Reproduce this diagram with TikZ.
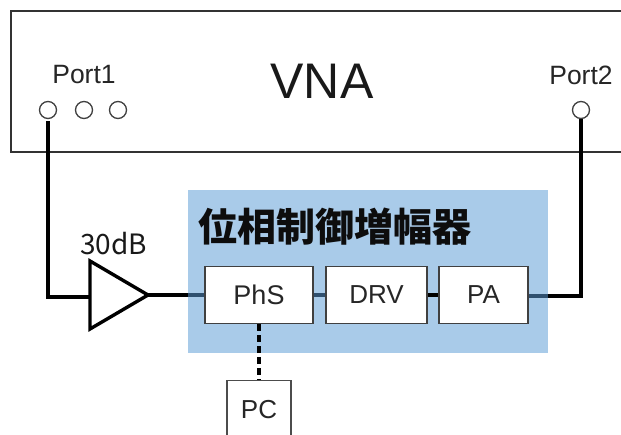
\documentclass[tikz,border=0pt]{standalone}
\usepackage{fontspec}
\setmainfont{Liberation Sans}
\newfontfamily\cjkfont{Noto Sans CJK JP}
\usetikzlibrary{shapes.geometric}
\definecolor{panelblue}{HTML}{5B9BD5}
\definecolor{linegray}{HTML}{404040}
\tikzset{
  x=1pt,y=-1pt,
  wire/.style={line width=3.8pt,black,line join=miter},
  block/.style={draw=linegray,line width=1.6pt,fill=white,inner sep=0pt,font=\fontsize{26}{26}\selectfont,text=black!85},
  portc/.style={circle,draw=linegray,line width=1.3pt,fill=white,minimum size=17pt,inner sep=0pt},
  lbl/.style={inner sep=0pt,font=\fontsize{26.5}{27}\selectfont,text=black!85},
}
\begin{document}
\begin{tikzpicture}
\useasboundingbox (0,0) rectangle (621,435);
\clip (0,0) rectangle (621,435);
% VNA case runs off the right edge
\node[draw=black!80,line width=1.6pt,minimum width=680pt,minimum height=141pt,inner sep=0pt,anchor=north west] (vna) at (10,10) {};
\node[inner sep=0pt,font=\fontsize{50}{50}\selectfont,text=black!90] (vnat) at (322,81) {VNA};
\node[lbl] (p1t) at (84,75) {Port1};
\node[lbl] (p2t) at (581,75) {Port2};
\node[portc] (p1) at (48,110) {};
\node[portc] (p1b) at (84,110) {};
\node[portc] (p1c) at (118,110) {};
\node[portc] (p2) at (581,110) {};
% amplifier
\node[isosceles triangle,isosceles triangle apex angle=60,isosceles triangle stretches,shape border rotate=0,
  minimum width=68pt,minimum height=58pt,inner sep=0pt,outer sep=0pt,draw=black,line width=3.4pt,anchor=apex] (amp) at (148,295) {};
\node[inner sep=0pt,font=\cjkfont\fontsize{28}{28}\selectfont,text=black!90] (gain) at (113.5,244) {30dB};
% coordinates for the blocks (used by the wires beneath the panel)
\coordinate (phsc) at (259,295);
\coordinate (drvc) at (376.5,295);
\coordinate (pac) at (483.5,295);
\coordinate (corn1) at (48,297);
\coordinate (corn2) at (581,296);
% wires beneath the translucent panel
\draw[wire] ([yshift=-2pt]p1.south) -- (corn1) -- (amp.west |- corn1);
\draw[wire] (amp.apex) -- (phsc);
\draw[wire] (phsc) -- (drvc);
\draw[wire] (pac |- corn2) -- (corn2) -- (p2.south);
\fill[panelblue,fill opacity=.52] (188,190) rectangle (548,353);
\node[inner sep=0pt,anchor=west,font=\cjkfont\bfseries\fontsize{39}{39}\selectfont,text=black!95] (title) at (198,227) {位相制御増幅器};
\draw[wire] (drvc) -- (pac);
% blocks
\node[block,minimum width=108pt,minimum height=57pt] (phs) at (phsc) {\fontsize{27}{27}\selectfont PhS};
\node[block,minimum width=101pt,minimum height=57pt] (drv) at (drvc) {DRV};
\node[block,minimum width=89pt,minimum height=57pt] (pa) at (pac) {PA};
\node[block,draw=black!70,line width=1.2pt,minimum width=64pt,minimum height=70pt,anchor=north] (pc) at (259,380) {};
\node[inner sep=0pt,font=\fontsize{26}{26}\selectfont,text=black!85] (pct) at (259,410) {PC};
\draw[line width=3.2pt,black,dash pattern=on 7pt off 4pt] (phs.south) -- (pc.north);
\end{tikzpicture}
\end{document}
